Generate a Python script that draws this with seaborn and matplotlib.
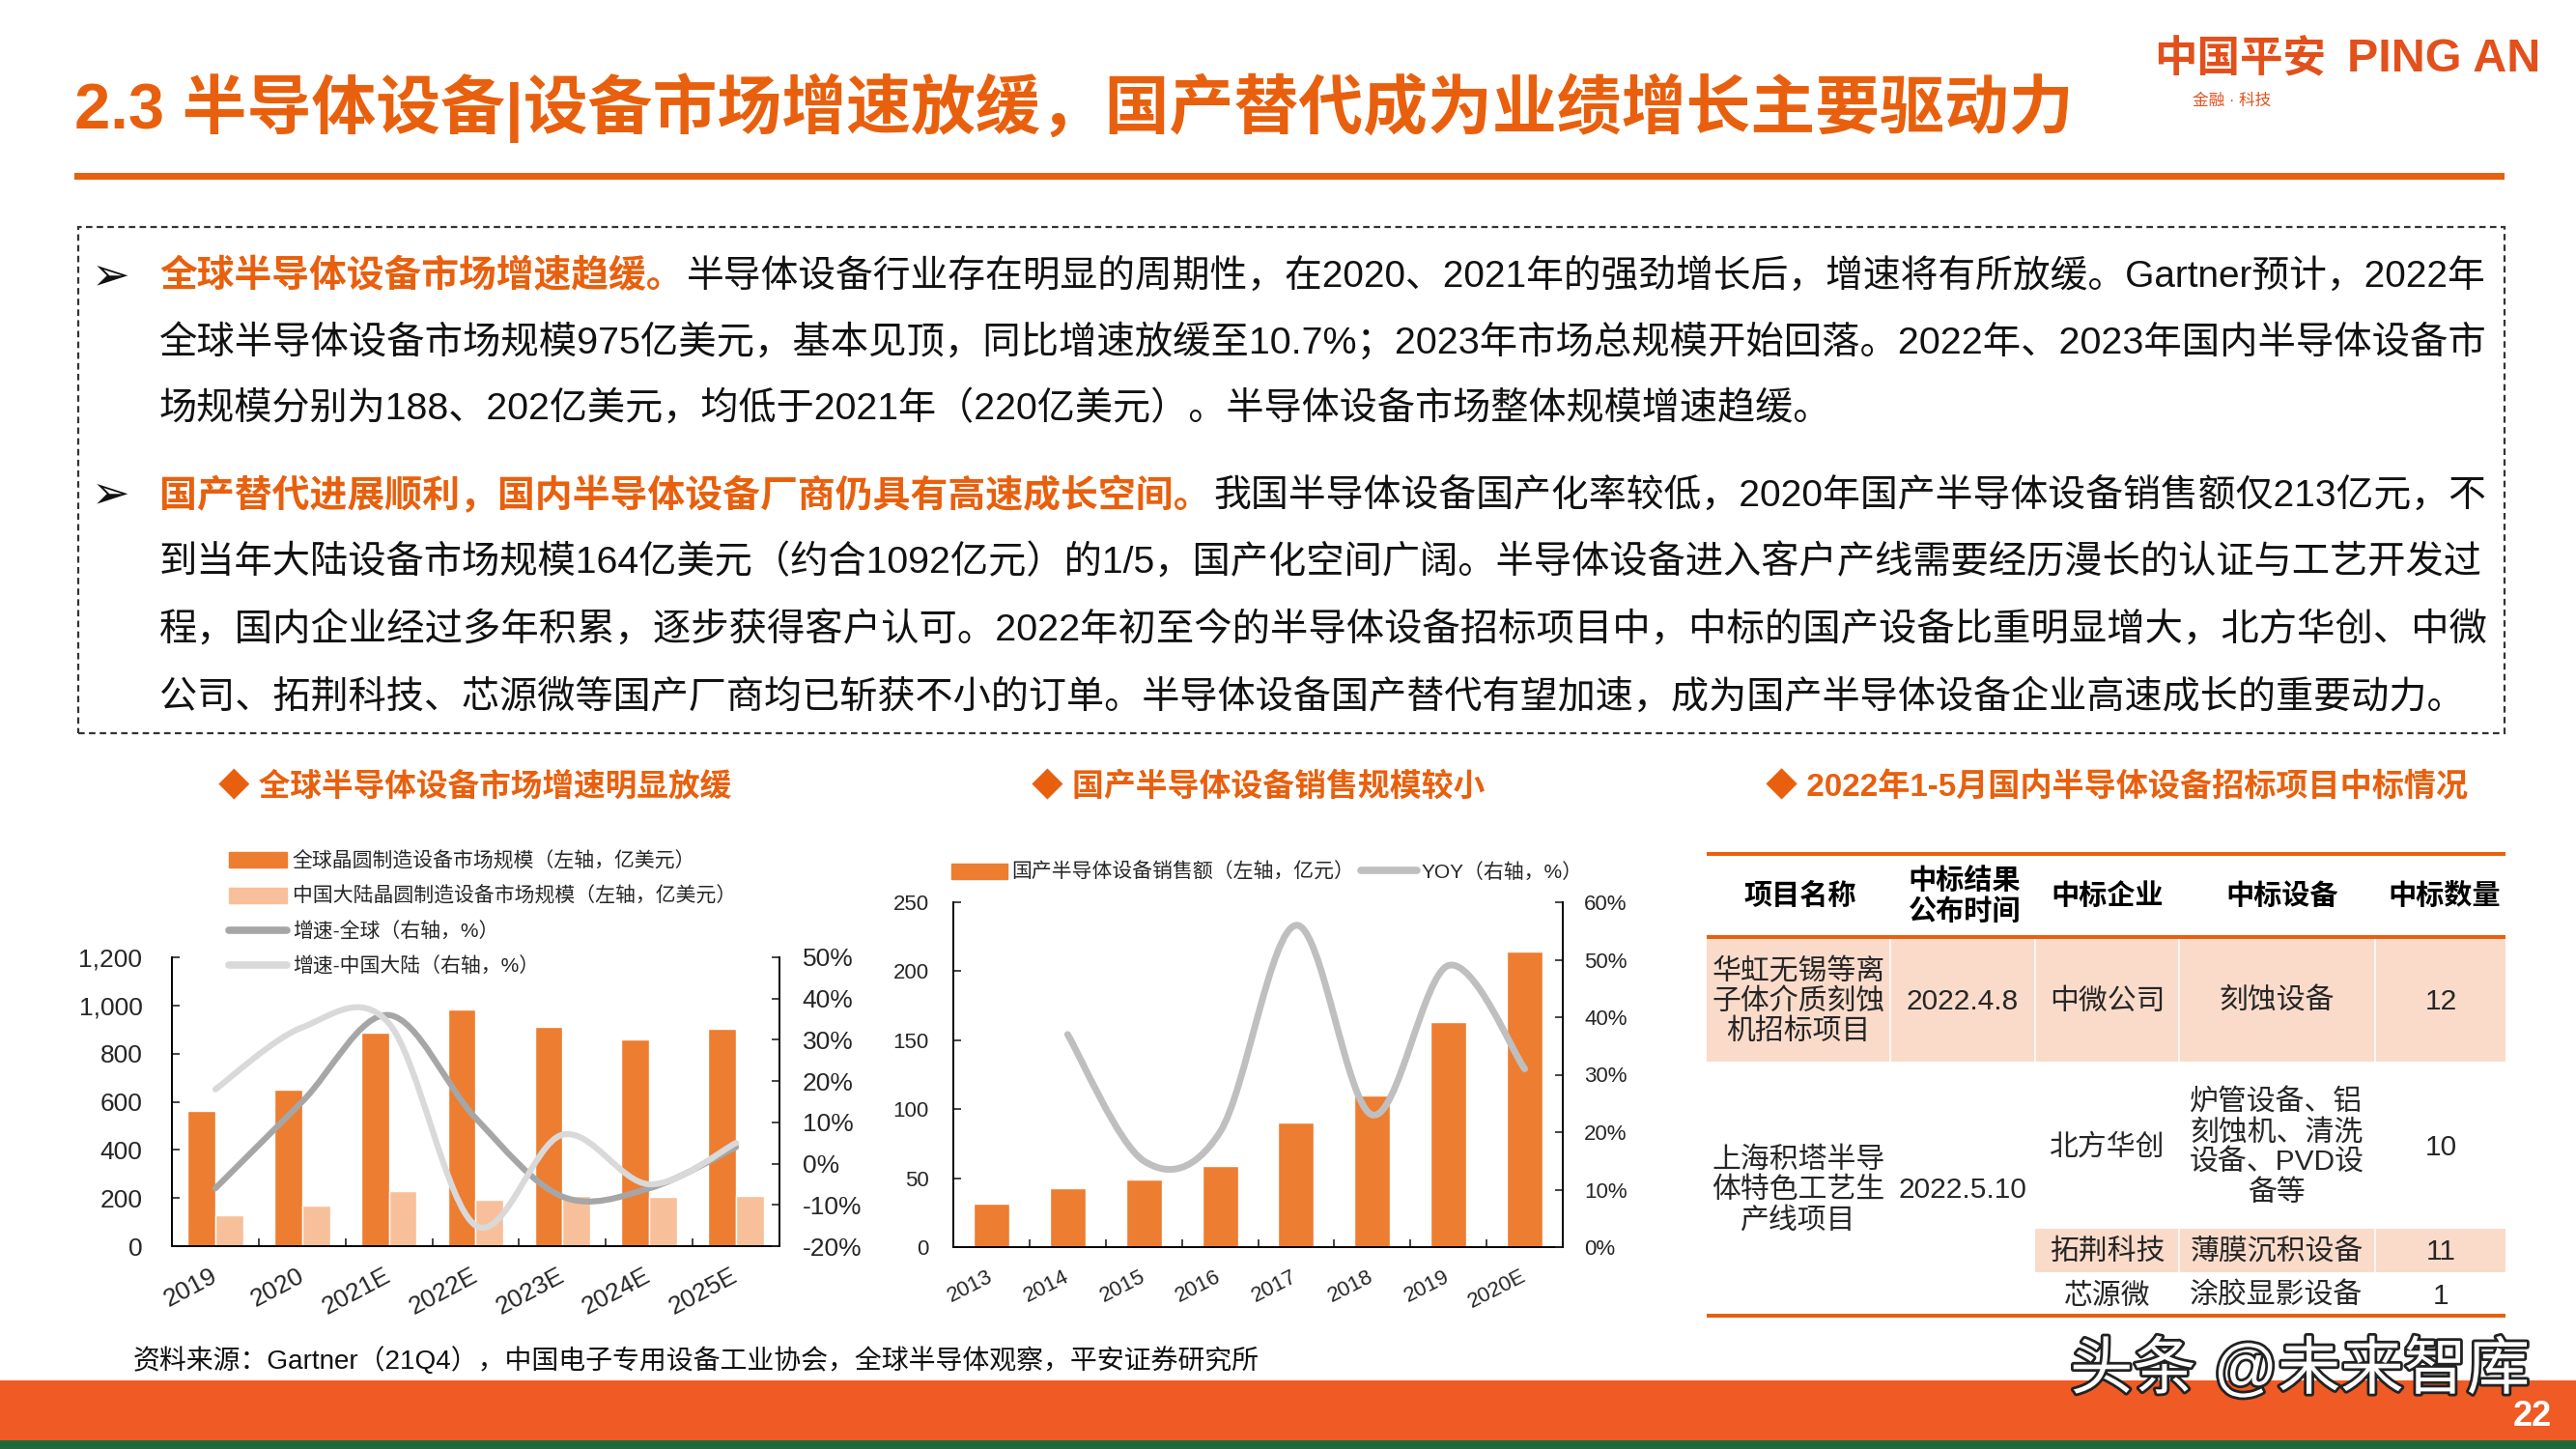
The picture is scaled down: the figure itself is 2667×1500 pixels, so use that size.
import numpy as np
import pandas as pd
import matplotlib.pyplot as plt
import seaborn as sns
import matplotlib.patheffects as pe
from matplotlib.patches import Rectangle, Patch, PathPatch
from matplotlib.lines import Line2D
from matplotlib.path import Path
from matplotlib.ticker import FuncFormatter

# ---- chart 1: global vs mainland wafer fab equipment market ----
years_global = ["2019", "2020", "2021E", "2022E", "2023E", "2024E", "2025E"]
global_size = [560, 650, 885, 985, 910, 860, 905]
china_size = [127, 167, 227, 194, 210, 203, 210]
global_growth = [-6, 15, 36, 11, -8, -6, 4]
china_growth = [18, 33, 34, -15, 7, -5, 5]

# ---- chart 2: domestic equipment sales ----
years_domestic = ["2013", "2014", "2015", "2016", "2017", "2018", "2019", "2020E"]
domestic_sales = [31.5, 43, 49, 59, 90, 110, 163, 214]
yoy_years = ["2014", "2015", "2016", "2017", "2018", "2019", "2020E"]
domestic_yoy = [37, 15, 20, 56, 23, 49, 31]

# ---- table ----
table_header = ["项目名称", "中标结果\n公布时间", "中标企业", "中标设备", "中标数量"]
table_project = ["华虹无锡等离\n子体介质刻蚀\n机招标项目", "上海积塔半导\n体特色工艺生\n产线项目"]
table_date = ["2022.4.8", "2022.5.10"]
table_company = ["中微公司", "北方华创", "拓荆科技", "芯源微"]
table_equipment = ["刻蚀设备", "炉管设备、铝\n刻蚀机、清洗\n设备、PVD设\n备等", "薄膜沉积设备", "涂胶显影设备"]
table_count = [12, 10, 11, 1]

ORANGE = "#E8600E"
BAR = "#ED7D31"
BAR_LIGHT = "#F7C09A"
PINK = "#FADBCA"

sns.set_style("ticks")
plt.rcParams["font.family"] = ["Liberation Sans", "Noto Sans CJK SC", "DejaVu Sans"]
plt.rcParams["axes.unicode_minus"] = False

W, H = 2667, 1500
fig = plt.figure(figsize=(W / 100, H / 100), dpi=100)
renderer = fig.canvas.get_renderer()


def ftext(x, y, s, **kw):
    return fig.text(x / W, 1 - y / H, s, **kw)


def frect(x0, y0, x1, y1, **kw):
    r = Rectangle((x0 / W, 1 - y1 / H), (x1 - x0) / W, (y1 - y0) / H,
                  transform=fig.transFigure, **kw)
    fig.add_artist(r)
    return r


def text_width(s, size, weight="normal"):
    t = fig.text(0, 0, s, fontsize=size, fontweight=weight)
    w = t.get_window_extent(renderer).width
    t.remove()
    return w


def runs_width(runs, size):
    return sum(text_width(s, size, w) + g * size * 100 / 72 for s, c, w, g in runs)


def fit_size(runs, size, x, right, lo=0.9, hi=1.1):
    return size * min(hi, max(lo, (right - x) / runs_width(runs, size)))


def draw_runs(x, y, runs, size):
    cx = x
    for s, c, w, g in runs:
        ftext(cx, y, s, fontsize=size, color=c, fontweight=w, va="center", ha="left")
        cx += text_width(s, size, w) + g * size * 100 / 72


def smooth_path(xs, ys):
    # excel style smoothed line: cubic bezier through the points
    verts = [(xs[0], ys[0])]
    codes = [Path.MOVETO]
    n = len(xs)
    for i in range(n - 1):
        a = max(i - 1, 0)
        b = min(i + 2, n - 1)
        c1 = (xs[i] + (xs[i + 1] - xs[a]) / 6, ys[i] + (ys[i + 1] - ys[a]) / 6)
        c2 = (xs[i + 1] - (xs[b] - xs[i]) / 6, ys[i + 1] - (ys[b] - ys[i]) / 6)
        verts += [c1, c2, (xs[i + 1], ys[i + 1])]
        codes += [Path.CURVE4] * 3
    return Path(verts, codes)


def style_axes(ax, axr, left_pad, right_pad, size, rot):
    for a in (ax, axr):
        a.spines["top"].set_visible(False)
        for sp in a.spines.values():
            sp.set_linewidth(1.4)
            sp.set_color("black")
    ax.spines["right"].set_visible(False)
    axr.spines["left"].set_visible(False)
    axr.spines["bottom"].set_visible(False)
    ax.tick_params(axis="y", direction="in", length=6, width=1.2, pad=left_pad, labelsize=size)
    axr.tick_params(axis="y", direction="in", length=6, width=1.2, pad=right_pad, labelsize=size)
    ax.tick_params(axis="x", which="major", length=0, pad=21, labelsize=size)
    n = len(ax.get_xticks())
    ax.set_xticks(np.arange(0.5, n - 1, 1), minor=True)
    ax.tick_params(axis="x", which="minor", direction="in", length=6, width=1.2)
    ax.set_xlim(-0.5, n - 0.5)
    for lab in ax.get_xticklabels():
        lab.set_rotation(rot)
        lab.set_ha("right")
        lab.set_va("center")
        lab.set_rotation_mode("anchor")
    ax.set_xlabel("")
    ax.set_ylabel("")


# ---------------- header ----------------
title_runs = [("2.3 半导体设备|设备市场增速放缓，国产替代成为业绩增长主要驱动力", ORANGE, "bold", 0)]
draw_runs(77, 112, title_runs, fit_size(title_runs, 46, 77, 2146, 0.8, 1.2))
frect(77, 179, 2593, 186, color=ORANGE, lw=0)

logo1 = [("中国平安", "#E2501C", "bold", 0)]
logo2 = [("PING AN", "#E2501C", "bold", 0)]
draw_runs(2230, 62, logo1, fit_size(logo1, 28, 2230, 2408, 0.7, 1.4))
draw_runs(2430, 62, logo2, fit_size(logo2, 28, 2430, 2630, 0.7, 1.4))
ftext(2270, 104, "金融 · 科技", fontsize=12, color="#E2501C", va="center")

# ---------------- text box ----------------
frect(81, 235, 2593, 759, fill=False, ec="#333333", lw=1.6, ls=(0, (3, 2)))
BLK = "#111111"
body_lines = [
    ([("全球半导体设备市场增速趋缓。", ORANGE, "bold", 0.08),
      ("半导体设备行业存在明显的周期性，在2020、2021年的强劲增长后，增速将有所放缓。Gartner预计，2022年", BLK, "normal", 0)], True),
    ([("全球半导体设备市场规模975亿美元，基本见顶，同比增速放缓至10.7%；2023年市场总规模开始回落。2022年、2023年国内半导体设备市", BLK, "normal", 0)], True),
    ([("场规模分别为188、202亿美元，均低于2021年（220亿美元）。半导体设备市场整体规模增速趋缓。", BLK, "normal", 0)], False),
    ([("国产替代进展顺利，国内半导体设备厂商仍具有高速成长空间。", ORANGE, "bold", 0.08),
      ("我国半导体设备国产化率较低，2020年国产半导体设备销售额仅213亿元，不", BLK, "normal", 0)], True),
    ([("到当年大陆设备市场规模164亿美元（约合1092亿元）的1/5，国产化空间广阔。半导体设备进入客户产线需要经历漫长的认证与工艺开发过", BLK, "normal", 0)], True),
    ([("程，国内企业经过多年积累，逐步获得客户认可。2022年初至今的半导体设备招标项目中，中标的国产设备比重明显增大，北方华创、中微", BLK, "normal", 0)], True),
    ([("公司、拓荆科技、芯源微等国产厂商均已斩获不小的订单。半导体设备国产替代有望加速，成为国产半导体设备企业高速成长的重要动力。", BLK, "normal", 0)], False),
]
line_y = [287, 354, 423, 513, 582, 652, 722]
sizes = [fit_size(r, 27, 165, 2573, 0.85, 1.15) if j else None for r, j in body_lines]
mean_size = np.mean([s for s in sizes if s])
for (runs, j), y, s in zip(body_lines, line_y, sizes):
    draw_runs(165, y, runs, s if s else mean_size)
for y in (287, 513):
    ftext(115, y, "➢", fontsize=34, family="DejaVu Sans", ha="center", va="center", color=BLK)

# ---------------- chart titles ----------------
for x0, x1, t in [(226, 757, "◆ 全球半导体设备市场增速明显放缓"),
                  (1068, 1536, "◆ 国产半导体设备销售规模较小"),
                  (1828, 2554, "◆ 2022年1-5月国内半导体设备招标项目中标情况")]:
    r = [(t, ORANGE, "bold", 0)]
    draw_runs(x0, 815, r, fit_size(r, 22, x0, x1, 0.85, 1.15))

# ---------------- chart 1 ----------------
lab_g = "全球晶圆制造设备市场规模（左轴，亿美元）"
lab_c = "中国大陆晶圆制造设备市场规模（左轴，亿美元）"
df1 = pd.DataFrame({"year": years_global * 2,
                    "value": global_size + china_size,
                    "series": [lab_g] * len(years_global) + [lab_c] * len(years_global)})
ax1 = fig.add_axes([178 / W, 1 - 1290 / H, (807 - 178) / W, (1290 - 991) / H])
sns.barplot(data=df1, x="year", y="value", hue="series", palette=[BAR, BAR_LIGHT],
            width=0.64, saturation=1, errorbar=None, legend=False, ax=ax1)
ax1.set_ylim(0, 1200)
ax1.set_yticks(range(0, 1201, 200))
ax1.yaxis.set_major_formatter(FuncFormatter(lambda v, p: f"{v:,.0f}"))
ax1r = ax1.twinx()
ax1r.set_ylim(-20, 50)
ax1r.set_yticks(range(-20, 51, 10))
ax1r.yaxis.set_major_formatter(FuncFormatter(lambda v, p: f"{v:.0f}%"))
xg = list(range(len(years_global)))
ax1r.add_patch(PathPatch(smooth_path(xg, global_growth), fill=False, ec="#A6A6A6",
                         lw=4.5, capstyle="round", joinstyle="round"))
ax1r.add_patch(PathPatch(smooth_path(xg, china_growth), fill=False, ec="#D9D9D9",
                         lw=4.5, capstyle="round", joinstyle="round"))
style_axes(ax1, ax1r, 22, 17, 19, 28)
h1 = [Patch(color=BAR), Patch(color=BAR_LIGHT),
      Line2D([], [], color="#A6A6A6", lw=5.5, solid_capstyle="round"),
      Line2D([], [], color="#D9D9D9", lw=5.5, solid_capstyle="round")]
ax1r.legend(h1, [lab_g, lab_c, "增速-全球（右轴，%）", "增速-中国大陆（右轴，%）"],
            loc="upper left", bbox_to_anchor=(237 / W, 1 - 881 / H), bbox_transform=fig.transFigure,
            frameon=False, fontsize=15, handlelength=2.9, handleheight=0.8, labelspacing=0.78,
            handletextpad=0.25, borderpad=0, borderaxespad=0, labelcolor="#262626")

# ---------------- chart 2 ----------------
df2 = pd.DataFrame({"year": years_domestic, "sales": domestic_sales})
ax2 = fig.add_axes([987 / W, 1 - 1291 / H, (1618 - 987) / W, (1291 - 934) / H])
sns.barplot(data=df2, x="year", y="sales", color=BAR, width=0.47, saturation=1,
            errorbar=None, ax=ax2)
ax2.set_ylim(0, 250)
ax2.set_yticks(range(0, 251, 50))
ax2r = ax2.twinx()
ax2r.set_ylim(0, 60)
ax2r.set_yticks(range(0, 61, 10))
ax2r.yaxis.set_major_formatter(FuncFormatter(lambda v, p: f"{v:.0f}%"))
xy = [years_domestic.index(y) for y in yoy_years]
ax2r.add_patch(PathPatch(smooth_path(xy, domestic_yoy), fill=False, ec="#BFBFBF",
                         lw=5, capstyle="round", joinstyle="round"))
style_axes(ax2, ax2r, 18, 16, 16, 27)
ax2r.legend([Patch(color=BAR), Line2D([], [], color="#BFBFBF", lw=5.5, solid_capstyle="round")],
            ["国产半导体设备销售额（左轴，亿元）", "YOY（右轴，%）"],
            loc="center left", bbox_to_anchor=(985 / W, 1 - 903 / H), bbox_transform=fig.transFigure,
            ncol=2, frameon=False, fontsize=15, handlelength=2.8, handleheight=0.8,
            handletextpad=0.2, columnspacing=0.3, borderpad=0, borderaxespad=0, labelcolor="#262626")

# ---------------- table ----------------
TX0, TX1 = 1767, 2594
frect(TX0, 970, TX1, 1099, color=PINK, lw=0)
frect(2107, 1272, TX1, 1317, color=PINK, lw=0)
for xb in (1957, 2107, 2256, 2459):
    frect(xb - 1, 972, xb + 1, 1099, color="white", lw=0, alpha=0.8)
for xb in (2256, 2459):
    frect(xb - 1, 1272, xb + 1, 1317, color="white", lw=0, alpha=0.8)
for yl in (884, 970, 1362):
    frect(TX0, yl - 2, TX1, yl + 2, color=ORANGE, lw=0)

hdr_x = [1864, 2034, 2182, 2363, 2531]
for x, t in zip(hdr_x, table_header):
    ftext(x, 928, t, fontsize=21, fontweight="bold", ha="center", va="center",
          linespacing=1.15, color="black")

col_x = [1862, 2032, 2182, 2357, 2527]
proj_y = [1037, 1232]
comp_y = [1037, 1188, 1296, 1342]
for t, d, y in zip(table_project, table_date, proj_y):
    ftext(col_x[0], y, t, fontsize=21.5, ha="center", va="center", linespacing=1.15)
    ftext(col_x[1], y, d, fontsize=21.5, ha="center", va="center")
for c, e, n, y in zip(table_company, table_equipment, table_count, comp_y):
    ftext(col_x[2], y, c, fontsize=21.5, ha="center", va="center")
    ftext(col_x[3], y, e, fontsize=21.5, ha="center", va="center", linespacing=1.15)
    ftext(col_x[4], y, str(n), fontsize=21.5, ha="center", va="center")

# ---------------- footer ----------------
src = [("资料来源：Gartner（21Q4），中国电子专用设备工业协会，全球半导体观察，平安证券研究所", "#111111", "normal", 0)]
draw_runs(138, 1409, src, fit_size(src, 18, 138, 1306, 0.8, 1.2))
frect(0, 1429, W, 1491, color="#F05A24", lw=0)
frect(0, 1491, W, H, color="#1E6B3A", lw=0)
ftext(2381, 1418, "头条 @未来智库", fontsize=47, color="white", ha="center", va="center",
      path_effects=[pe.withStroke(linewidth=4, foreground="#222222")])
ftext(2622, 1466, "22", fontsize=26, fontweight="bold", color="white", ha="center", va="center")

fig.savefig("out.png", dpi=100)
